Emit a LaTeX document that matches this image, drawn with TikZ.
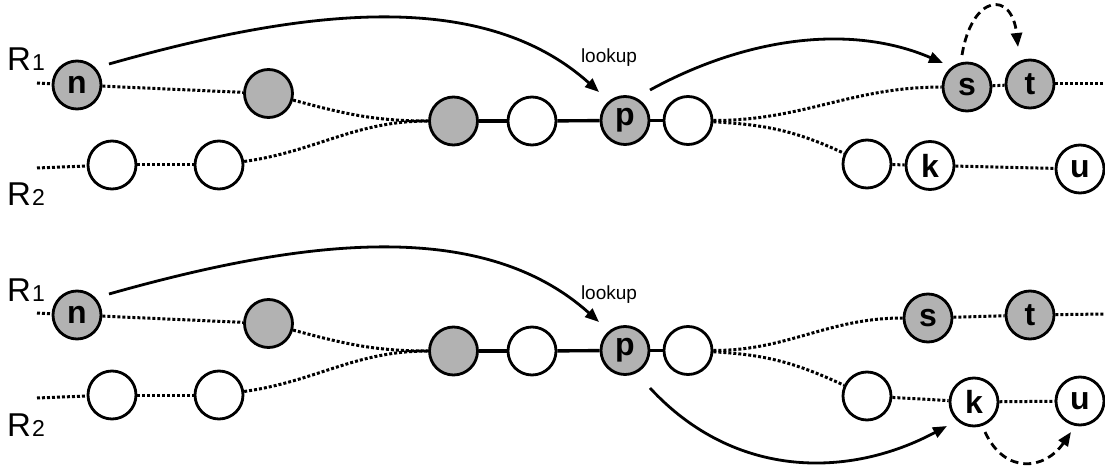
\documentclass[tikz,border=0pt]{standalone}
\usepackage{fontspec}
\setmainfont{Liberation Sans}
\usetikzlibrary{arrows.meta,calc}

\begin{document}
\begin{tikzpicture}[x=1pt,y=-1pt,
  ring/.style={circle,draw,line width=2.8pt,minimum size=48pt,inner sep=0pt,
               font=\fontsize{32}{32}\selectfont\bfseries},
  full/.style={ring,fill=black!30},
  empty/.style={ring,fill=white},
  dots/.style={line width=3pt,dash pattern=on 3pt off 2pt},
  chain/.style={line width=3.4pt},
  arr/.style={line width=2.8pt,-{Triangle[length=14pt,width=11pt]}},
  darr/.style={arr,dash pattern=on 8pt off 5pt},
  lbl/.style={font=\fontsize{19}{19}\selectfont},
  rlbl/.style={anchor=base west,inner sep=0pt,font=\fontsize{33}{33}\selectfont},
]
\useasboundingbox (0,0) rectangle (1105,470);

% ---------- upper panel ----------
\node[rlbl] (a-r1) at (7,71) {R\kern1pt{\fontsize{23}{23}\selectfont 1}};
\node[rlbl] (a-r2) at (7,206) {R\kern1pt{\fontsize{23}{23}\selectfont 2}};

\coordinate (a-in1) at (37,83);
\coordinate (a-in2) at (37,168);
\coordinate (a-out) at (1105,84);

\node[full]  (a-n)  at (77,85)      {n};
\node[full]  (a-g)  at (268.5,93.5) {};
\node[empty] (a-w1) at (112,165)    {};
\node[empty] (a-w2) at (219,165)    {};
\node[full]  (a-m)  at (453.5,121)  {};
\node[empty] (a-e)  at (532,121)    {};
\node[full]  (a-p)  at (625,120.5)  {p};
\node[empty] (a-f)  at (688,120.5)  {};
\node[full]  (a-s)  at (967,87)     {s};
\node[full]  (a-t)  at (1030,84)    {t};
\node[empty] (a-l)  at (867,164)    {};
\node[empty] (a-k)  at (930,165.5)  {k};
\node[empty] (a-u)  at (1080,169)   {u};

\draw[dots] (a-in1) -- (a-n);
\draw[dots] (a-n) -- (a-g);
\draw[dots] (a-in2) -- (a-w1);
\draw[dots] (a-w1) -- (a-w2);
\draw[dots] (a-g) to[out=-15,in=180] (a-m);
\draw[dots] (a-w2) to[out=8,in=180] (a-m);
\draw[chain] (a-m) -- (a-e);
\draw[chain] (a-e) -- (a-p);
\draw[chain] (a-p) -- (a-f);
\draw[dots] (a-f) to[out=0,in=180] (a-s);
\draw[dots] (a-f) to[out=-3,in=155] (a-l);
\draw[dots] (a-s) -- (a-t);
\draw[dots] (a-t) -- (a-out);
\draw[dots] (a-l) -- (a-k);
\draw[dots] (a-k) -- (a-u);

\node[lbl] (a-look) at (609,58) {lookup};
\draw[arr] ($(a-n)+(32,-21)$) .. controls (300,10) and (481,-14) .. ($(a-p)+(-26,-28.5)$);
\draw[arr] ($(a-p)+(25,-30.5)$) .. controls (745,38) and (850,23) .. ($(a-s)+(-24,-24)$);
\draw[darr] ($(a-s)+(-5,-32)$) .. controls (972,-6) and (1012,-10) .. ($(a-t)+(-12,-37)$);

% ---------- lower panel ----------
\node[rlbl] (b-r1) at (7,301) {R\kern1pt{\fontsize{23}{23}\selectfont 1}};
\node[rlbl] (b-r2) at (7,436) {R\kern1pt{\fontsize{23}{23}\selectfont 2}};

\coordinate (b-in1) at (37,313);
\coordinate (b-in2) at (37,398);
\coordinate (b-out) at (1105,314);

\node[full]  (b-n)  at (77,315)     {n};
\node[full]  (b-g)  at (268.5,323.5){};
\node[empty] (b-w1) at (112,395)    {};
\node[empty] (b-w2) at (219,395)    {};
\node[full]  (b-m)  at (453.5,351)  {};
\node[empty] (b-e)  at (532,351)    {};
\node[full]  (b-p)  at (625,350.5)  {p};
\node[empty] (b-f)  at (688,350.5)  {};
\node[full]  (b-s)  at (928,318)    {s};
\node[full]  (b-t)  at (1030,315)   {t};
\node[empty] (b-l)  at (867,396)    {};
\node[empty] (b-k)  at (974,402)    {k};
\node[empty] (b-u)  at (1080,401)   {u};

\draw[dots] (b-in1) -- (b-n);
\draw[dots] (b-n) -- (b-g);
\draw[dots] (b-in2) -- (b-w1);
\draw[dots] (b-w1) -- (b-w2);
\draw[dots] (b-g) to[out=-15,in=180] (b-m);
\draw[dots] (b-w2) to[out=8,in=180] (b-m);
\draw[chain] (b-m) -- (b-e);
\draw[chain] (b-e) -- (b-p);
\draw[chain] (b-p) -- (b-f);
\draw[dots] (b-f) to[out=0,in=180] (b-s);
\draw[dots] (b-f) to[out=-3,in=155] (b-l);
\draw[dots] (b-s) -- (b-t);
\draw[dots] (b-t) -- (b-out);
\draw[dots] (b-l) -- (b-k);
\draw[dots] (b-k) -- (b-u);

\node[lbl] (b-look) at (609,295) {lookup};
\draw[arr] ($(b-n)+(32,-21)$) .. controls (300,240) and (481,216) .. ($(b-p)+(-26,-28.5)$);
\draw[arr] ($(b-p)+(25,37.5)$) .. controls (735,480) and (850,478) .. ($(b-k)+(-27,24)$);
\draw[darr] ($(b-k)+(11,30)$) .. controls (1005,475) and (1045,470) .. ($(b-u)+(-9,31)$);
\end{tikzpicture}
\end{document}
